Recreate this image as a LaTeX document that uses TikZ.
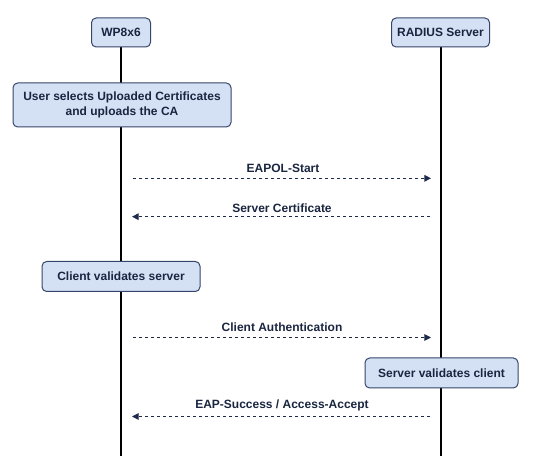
\documentclass[tikz,border=0pt]{standalone}
\usepackage{fontspec}
\setmainfont{Liberation Sans}
\usetikzlibrary{arrows.meta}
\definecolor{boxfill}{HTML}{D4E1F5}
\definecolor{boxline}{HTML}{36456A}
\definecolor{txt}{HTML}{1A2540}
\definecolor{msg}{HTML}{1E2B4A}
\begin{document}
\begin{tikzpicture}[x=0.75pt,y=-0.75pt,
  actor/.style={draw=boxline,fill=boxfill,rounded corners=3.5pt,line width=0.75pt,
    font=\fontsize{9}{11}\selectfont\bfseries,text=txt,align=center,inner sep=0pt},
  life/.style={line width=1.5pt,black},
  msgline/.style={draw=msg,dashed,dash pattern=on 2.25pt off 2.25pt,line width=0.75pt,
    -{Triangle[length=5pt,width=5pt]}},
  lbl/.style={font=\fontsize{9}{11}\selectfont\bfseries,text=txt,inner sep=0pt}]
\useasboundingbox (0,0) rectangle (535,473);
% lifelines
\coordinate (wtop) at (121,47);
\coordinate (wbot) at (121,456);
\coordinate (rtop) at (440.5,47);
\coordinate (rbot) at (440.5,456);
\draw[life] (wtop) -- (wbot);
\draw[life] (rtop) -- (rbot);
% heads
\node[actor,minimum width=59*0.75pt,minimum height=29*0.75pt] (wp) at (121,32.5) {WP8x6};
\node[actor,minimum width=98*0.75pt,minimum height=29*0.75pt] (rad) at (440.5,32.5) {RADIUS Server};
% activity boxes
\node[actor,minimum width=218*0.75pt,minimum height=44*0.75pt] (user) at (122,105) {User selects Uploaded Certificates\\and uploads the CA};
\node[actor,minimum width=158*0.75pt,minimum height=30*0.75pt] (cvs) at (121,276.5) {Client validates server};
\node[actor,minimum width=153*0.75pt,minimum height=30*0.75pt] (svc) at (441.5,373) {Server validates client};
% messages
\coordinate (m1a) at (133,178.3); \coordinate (m1b) at (431,178.3);
\coordinate (m2a) at (430,216.7); \coordinate (m2b) at (132,216.7);
\coordinate (m3a) at (133,337.5); \coordinate (m3b) at (431,337.5);
\coordinate (m4a) at (430,416.5); \coordinate (m4b) at (132,416.5);
\draw[msgline] (m1a) -- (m1b);
\draw[msgline] (m2a) -- (m2b);
\draw[msgline] (m3a) -- (m3b);
\draw[msgline] (m4a) -- (m4b);
\node[lbl] (l1) at (283,168.5) {EAPOL-Start};
\node[lbl] (l2) at (282,208) {Server Certificate};
\node[lbl] (l3) at (282,327.5) {Client Authentication};
\node[lbl] (l4) at (282,405.5) {EAP-Success / Access-Accept};
\end{tikzpicture}
\end{document}
